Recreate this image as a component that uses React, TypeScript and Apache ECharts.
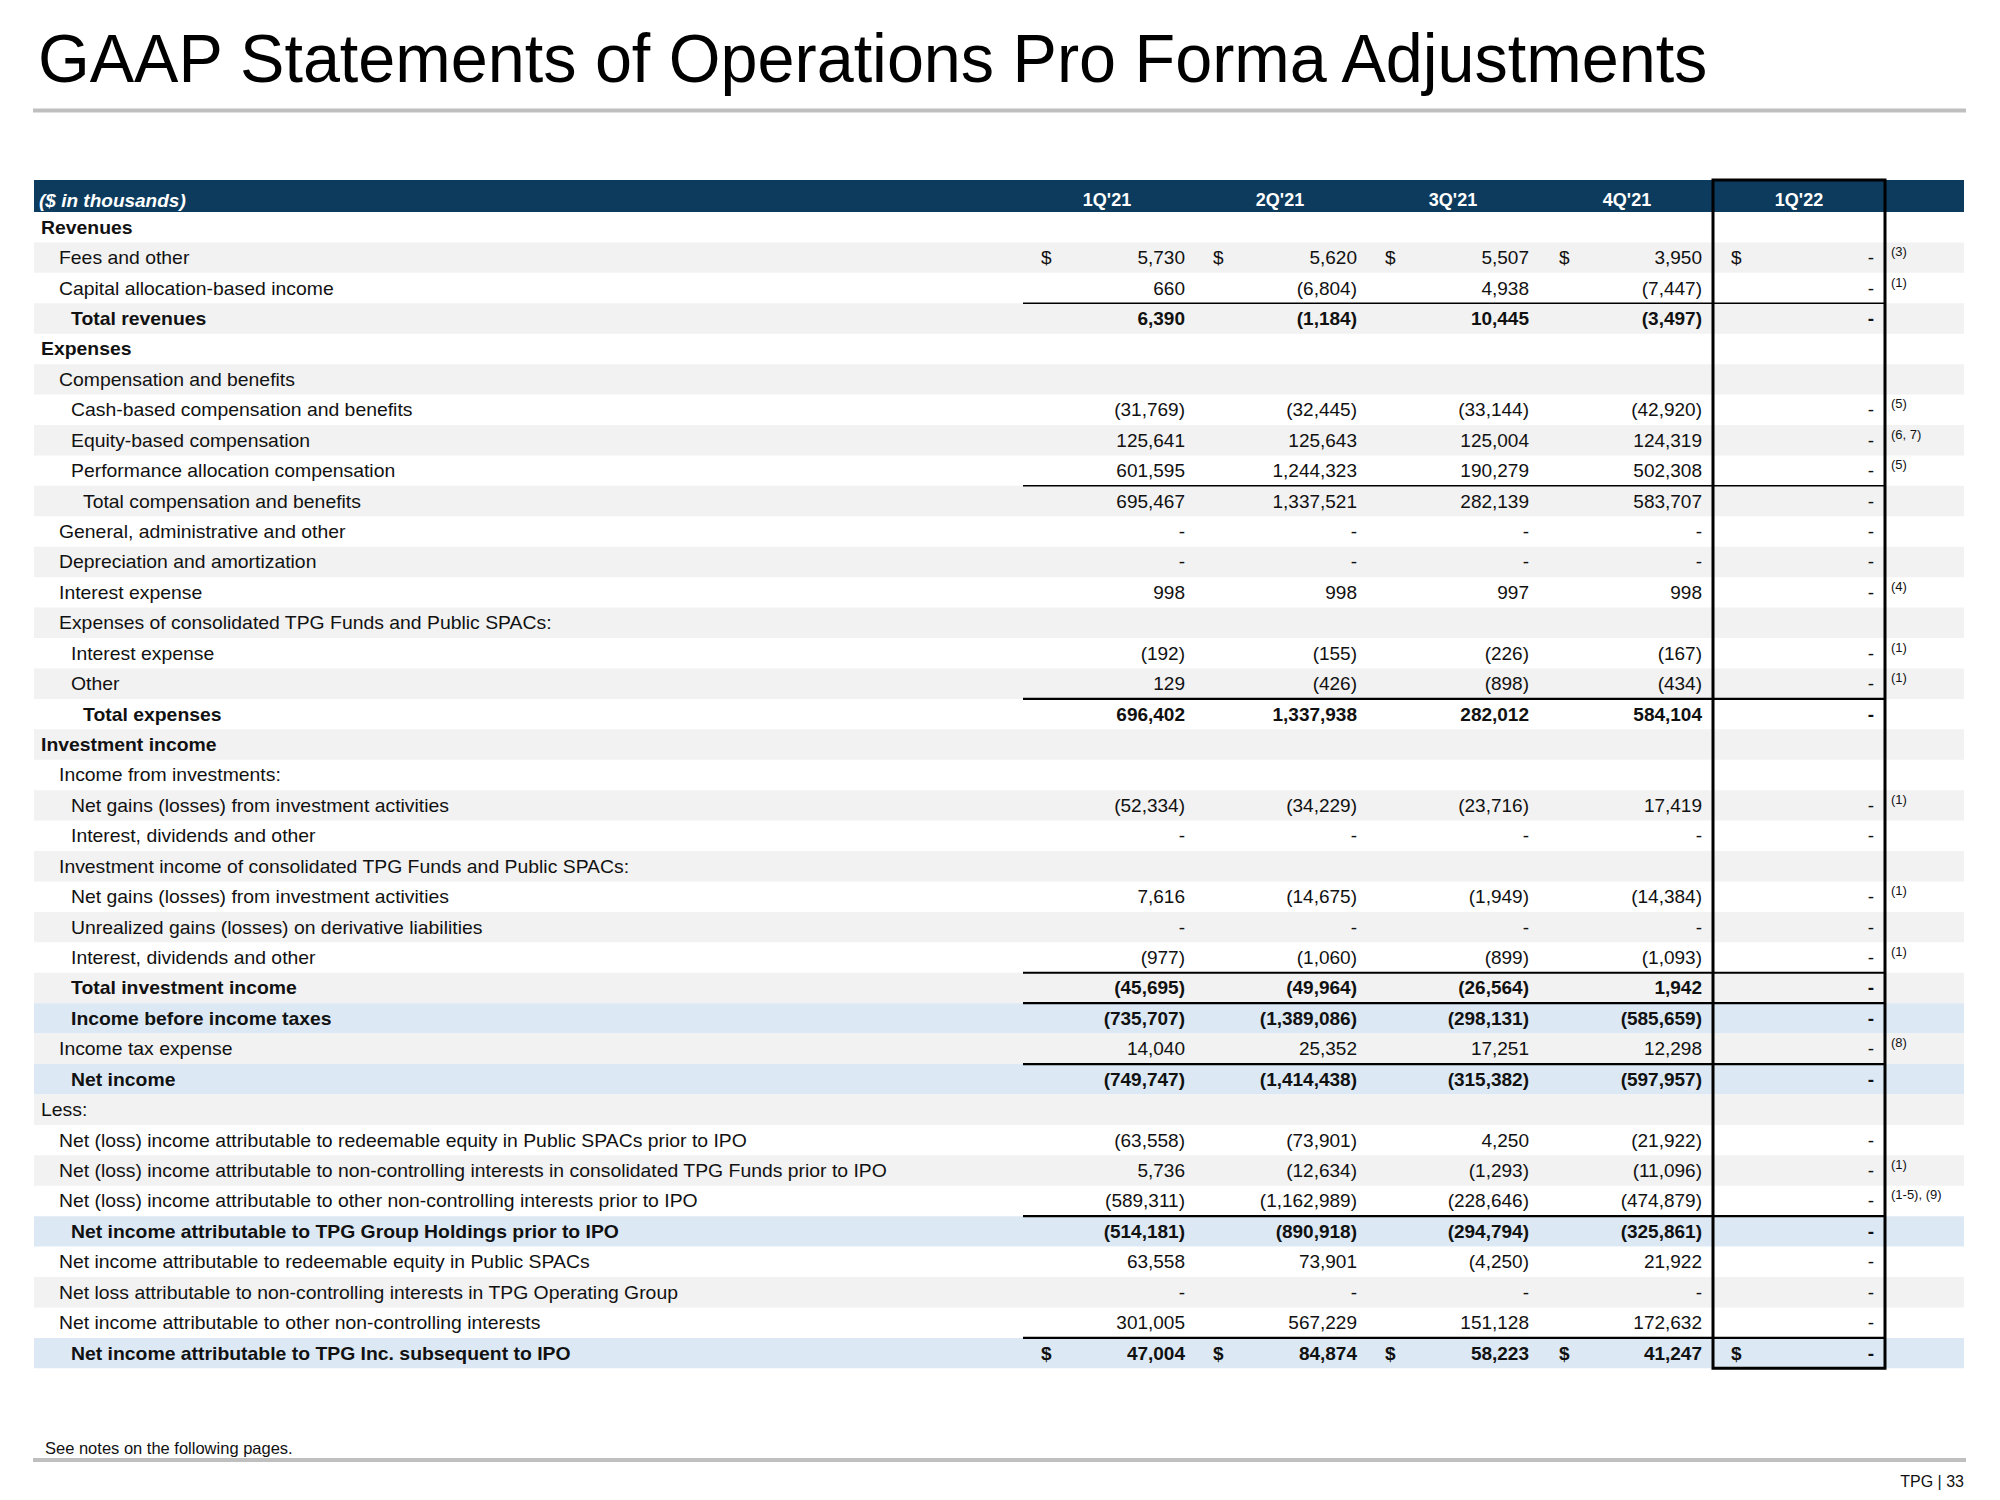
import React, { useEffect, useRef } from "react";
import * as echarts from "echarts";

const quarters = ["1Q'21", "2Q'21", "3Q'21", "4Q'21", "1Q'22"];

const rowLabels = [
  "Revenues",
  "Fees and other",
  "Capital allocation-based income",
  "Total revenues",
  "Expenses",
  "Compensation and benefits",
  "Cash-based compensation and benefits",
  "Equity-based compensation",
  "Performance allocation compensation",
  "Total compensation and benefits",
  "General, administrative and other",
  "Depreciation and amortization",
  "Interest expense",
  "Expenses of consolidated TPG Funds and Public SPACs:",
  "Interest expense",
  "Other",
  "Total expenses",
  "Investment income",
  "Income from investments:",
  "Net gains (losses) from investment activities",
  "Interest, dividends and other",
  "Investment income of consolidated TPG Funds and Public SPACs:",
  "Net gains (losses) from investment activities",
  "Unrealized gains (losses) on derivative liabilities",
  "Interest, dividends and other",
  "Total investment income",
  "Income before income taxes",
  "Income tax expense",
  "Net income",
  "Less:",
  "Net (loss) income attributable to redeemable equity in Public SPACs prior to IPO",
  "Net (loss) income attributable to non-controlling interests in consolidated TPG Funds prior to IPO",
  "Net (loss) income attributable to other non-controlling interests prior to IPO",
  "Net income attributable to TPG Group Holdings prior to IPO",
  "Net income attributable to redeemable equity in Public SPACs",
  "Net loss attributable to non-controlling interests in TPG Operating Group",
  "Net income attributable to other non-controlling interests",
  "Net income attributable to TPG Inc. subsequent to IPO",
];

const indentLevels = [0, 1, 1, 2, 0, 1, 2, 2, 2, 3, 1, 1, 1, 1, 2, 2, 3, 0, 1, 2, 2, 1, 2, 2, 2, 2, 2, 1, 2, 0, 1, 1, 1, 2, 1, 1, 1, 2];
const boldRows = [0, 3, 4, 16, 17, 25, 26, 28, 33, 37];
const highlightRows = [26, 28, 33, 37];
const thinRuleRows = [3, 9];
const thickRuleRows = [16, 25, 26, 28, 33, 37];
const dollarRows = [1, 37];

const N = null;
const values1Q21 = [N, 5730, 660, 6390, N, N, -31769, 125641, 601595, 695467, 0, 0, 998, N, -192, 129, 696402, N, N, -52334, 0, N, 7616, 0, -977, -45695, -735707, 14040, -749747, N, -63558, 5736, -589311, -514181, 63558, 0, 301005, 47004];
const values2Q21 = [N, 5620, -6804, -1184, N, N, -32445, 125643, 1244323, 1337521, 0, 0, 998, N, -155, -426, 1337938, N, N, -34229, 0, N, -14675, 0, -1060, -49964, -1389086, 25352, -1414438, N, -73901, -12634, -1162989, -890918, 73901, 0, 567229, 84874];
const values3Q21 = [N, 5507, 4938, 10445, N, N, -33144, 125004, 190279, 282139, 0, 0, 997, N, -226, -898, 282012, N, N, -23716, 0, N, -1949, 0, -899, -26564, -298131, 17251, -315382, N, 4250, -1293, -228646, -294794, -4250, 0, 151128, 58223];
const values4Q21 = [N, 3950, -7447, -3497, N, N, -42920, 124319, 502308, 583707, 0, 0, 998, N, -167, -434, 584104, N, N, 17419, 0, N, -14384, 0, -1093, 1942, -585659, 12298, -597957, N, -21922, -11096, -474879, -325861, 21922, 0, 172632, 41247];
const values1Q22 = [N, 0, 0, 0, N, N, 0, 0, 0, 0, 0, 0, 0, N, 0, 0, 0, N, N, 0, 0, N, 0, 0, 0, 0, 0, 0, 0, N, 0, 0, 0, 0, 0, 0, 0, 0];

const footnotes = ["", "(3)", "(1)", "", "", "", "(5)", "(6, 7)", "(5)", "", "", "", "(4)", "", "(1)", "(1)", "", "", "", "(1)", "", "", "(1)", "", "(1)", "", "", "(8)", "", "", "", "(1)", "(1-5), (9)", "", "", "", "", ""];

const columns = [values1Q21, values2Q21, values3Q21, values4Q21, values1Q22];

// layout (pixels)
const TABLE_LEFT = 34;
const TABLE_RIGHT = 1964;
const TABLE_TOP = 212;
const ROW_H = 30.43;
const TABLE_BOTTOM = TABLE_TOP + ROW_H * rowLabels.length;
const INDENT_X = [41, 59, 71, 83];
const VALUE_RIGHT = [1185, 1357, 1529, 1702, 1874];
const DOLLAR_LEFT = [1041, 1213, 1385, 1559, 1731];
const HEADER_CENTER = [1107, 1280, 1453, 1627, 1799];
const NOTE_X = 1891;
const RULE_X0 = 1023;
const RULE_X1 = 1885;
const BOX_X0 = 1713;
const BOX_X1 = 1885;

const FONT = '"Liberation Sans", Arial, Helvetica, sans-serif';
const NAVY = "#0c3b5e";
const GRAY = "#f2f2f2";
const BLUE = "#dce9f5";
const RULE_GRAY = "#bfbfbf";
const INK = "#111111";

function fmt(v: number | null): string {
  if (v === null || v === undefined) return "";
  if (v === 0) return "-";
  const s = Math.abs(v).toLocaleString("en-US");
  return v < 0 ? "(" + s + ")" : s;
}

function txt(x: number, y: number, text: string, font: string, align: string, fill = INK, extra: any = {}) {
  return {
    type: "text",
    x,
    y,
    ...extra,
    style: {
      text,
      x: 0,
      y: 0,
      font,
      fill,
      align,
      verticalAlign: "middle",
      textAlign: align,
      textVerticalAlign: "middle",
    },
  };
}

export default function App() {
  const ref = useRef<HTMLDivElement>(null);

  useEffect(() => {
    document.body.style.margin = "0";
    if (!ref.current) return;
    const chart = echarts.init(ref.current, undefined, { renderer: "svg" });

    const renderItem = (params: any, api: any) => {
      const i = api.value(1) as number;
      const h = api.size([0, 1])[1];
      const yc = api.coord([0, i])[1];
      const X = (abs: number) => api.coord([abs - TABLE_LEFT, i])[0];
      const top = yc - h / 2;
      const bold = boldRows.includes(i);
      const hl = highlightRows.includes(i);
      const font = (bold ? "bold " : "") + "19px " + FONT;
      const children: any[] = [];
      if (hl || i % 2 === 1) {
        children.push({
          type: "rect",
          shape: { x: X(TABLE_LEFT), y: top, width: X(TABLE_RIGHT) - X(TABLE_LEFT), height: h },
          style: { fill: hl ? BLUE : GRAY },
        });
      }
      children.push(txt(X(INDENT_X[indentLevels[i]]), yc, rowLabels[i], font, "left", INK, { scaleX: 1.02 }));
      columns.forEach((col, c) => {
        const s = fmt(col[i]);
        if (s) children.push(txt(X(VALUE_RIGHT[c]), yc, s, font, "right"));
        if (dollarRows.includes(i)) children.push(txt(X(DOLLAR_LEFT[c]), yc, "$", font, "left"));
      });
      if (footnotes[i]) {
        children.push(txt(X(NOTE_X), yc - 6, footnotes[i], "13px " + FONT, "left"));
      }
      const thin = thinRuleRows.includes(i);
      const thick = thickRuleRows.includes(i);
      if (thin || thick) {
        children.push({
          type: "line",
          shape: { x1: X(RULE_X0), y1: top, x2: X(RULE_X1), y2: top },
          style: { stroke: "#000", lineWidth: thick ? 2.2 : 1.5 },
        });
      }
      return { type: "group", children };
    };

    const graphics: any[] = [
      txt(38, 58, "GAAP Statements of Operations Pro Forma Adjustments", "68px " + FONT, "left", "#000", { scaleX: 0.978 }),
      { type: "rect", shape: { x: 33, y: 108.5, width: 1933, height: 4 }, style: { fill: RULE_GRAY } },
      { type: "rect", shape: { x: TABLE_LEFT, y: 180, width: TABLE_RIGHT - TABLE_LEFT, height: TABLE_TOP - 180 }, style: { fill: NAVY } },
      txt(39, 200, "($ in thousands)", "italic bold 19px " + FONT, "left", "#ffffff"),
      ...quarters.map((q, c) => txt(HEADER_CENTER[c], 200, q, "bold 18px " + FONT, "center", "#ffffff")),
      {
        type: "rect",
        z: 100,
        shape: { x: BOX_X0, y: 180, width: BOX_X1 - BOX_X0, height: TABLE_BOTTOM - 180 },
        style: { fill: "none", stroke: "#000", lineWidth: 3 },
      },
      txt(45, 1448, "See notes on the following pages.", "16.5px " + FONT, "left"),
      { type: "rect", shape: { x: 33, y: 1458, width: 1933, height: 4 }, style: { fill: RULE_GRAY } },
      txt(1964, 1481, "TPG | 33", "16px " + FONT, "right"),
    ];

    chart.setOption({
      animation: false,
      grid: { left: TABLE_LEFT, right: 2000 - TABLE_RIGHT, top: TABLE_TOP, bottom: 1500 - TABLE_BOTTOM, containLabel: false },
      xAxis: { type: "value", min: 0, max: TABLE_RIGHT - TABLE_LEFT, show: false },
      yAxis: { type: "category", data: rowLabels, inverse: true, show: false },
      series: [
        {
          type: "custom",
          coordinateSystem: "cartesian2d",
          renderItem,
          data: rowLabels.map((_, i) => [0, i]),
          silent: true,
        },
      ],
      graphic: graphics,
    });

    return () => chart.dispose();
  }, []);

  return <div ref={ref} style={{ width: 2000, height: 1500 }} />;
}
